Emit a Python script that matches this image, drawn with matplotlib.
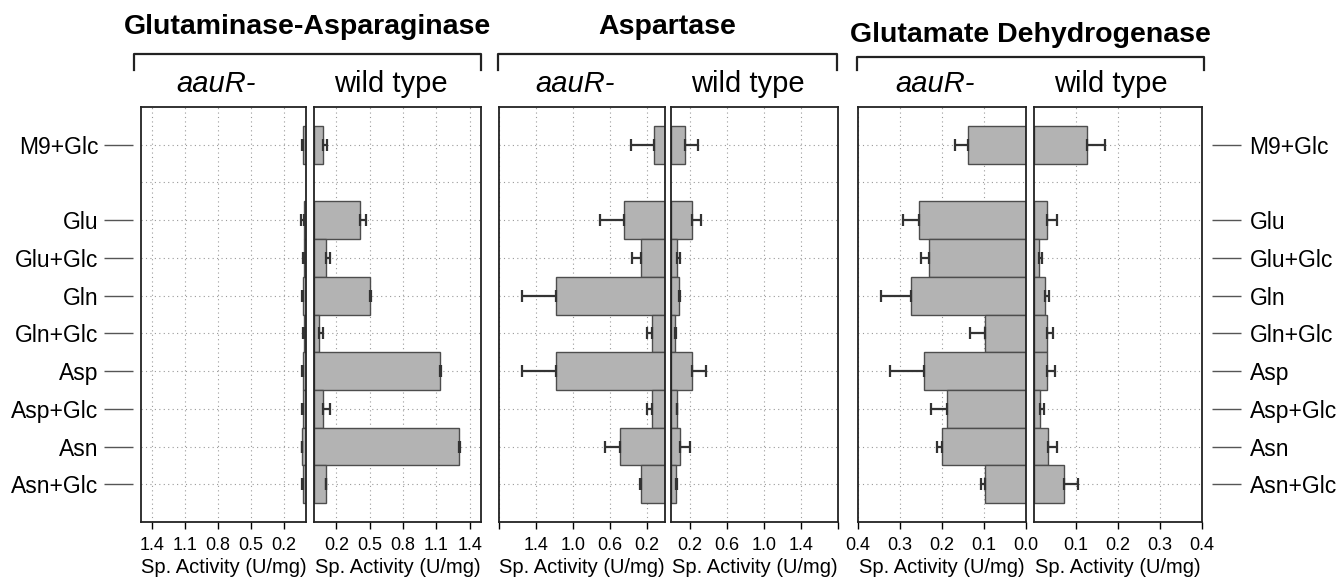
import numpy as np
import matplotlib
matplotlib.use("Agg")
import matplotlib.pyplot as plt
from matplotlib.lines import Line2D

plt.rcParams['font.family'] = ['Liberation Sans', 'DejaVu Sans']

conditions = ['M9+Glc', 'Glu', 'Glu+Glc', 'Gln', 'Gln+Glc', 'Asp', 'Asp+Glc', 'Asn', 'Asn+Glc']

# Glutaminase-Asparaginase
glut_mut = [0.025, 0.02, 0.02, 0.025, 0.02, 0.03, 0.025, 0.035, 0.025]
glut_mut_err = [0.012, 0.025, 0.01, 0.015, 0.008, 0.01, 0.008, 0.003, 0.01]
glut_wt = [0.08, 0.41, 0.105, 0.50, 0.045, 1.13, 0.08, 1.30, 0.105]
glut_wt_err = [0.036, 0.06, 0.035, 0.01, 0.04, 0.01, 0.06, 0.01, 0.005]

# Aspartase
asp_mut = [0.12, 0.44, 0.26, 1.18, 0.14, 1.18, 0.14, 0.49, 0.26]
asp_mut_err = [0.25, 0.26, 0.10, 0.37, 0.05, 0.37, 0.05, 0.16, 0.01]
asp_wt = [0.15, 0.23, 0.07, 0.09, 0.04, 0.23, 0.06, 0.10, 0.05]
asp_wt_err = [0.14, 0.09, 0.03, 0.01, 0.01, 0.15, 0.01, 0.10, 0.01]

# Glutamate Dehydrogenase
gdh_mut = [0.138, 0.255, 0.23, 0.274, 0.098, 0.243, 0.188, 0.20, 0.098]
gdh_mut_err = [0.032, 0.038, 0.02, 0.071, 0.035, 0.081, 0.038, 0.012, 0.009]
gdh_wt = [0.126, 0.031, 0.012, 0.026, 0.031, 0.031, 0.014, 0.033, 0.071]
gdh_wt_err = [0.043, 0.024, 0.008, 0.01, 0.014, 0.019, 0.01, 0.022, 0.034]

glut_ticks = [0.2, 0.5, 0.8, 1.1, 1.4]
asp_ticks = [0.2, 0.6, 1.0, 1.4, 1.8]
gdh_ticks = [0.0, 0.1, 0.2, 0.3, 0.4]

titles = ['Glutaminase-Asparaginase', 'Aspartase', 'Glutamate Dehydrogenase']
strains = ['aauR-', 'wild type']
xlabel = 'Sp. Activity (U/mg)'

W, H = 1339, 582
fig = plt.figure(figsize=(W / 100, H / 100), dpi=100)

n = len(conditions)
# one blank row after M9+Glc
ypos = np.arange(n) + (np.arange(n) > 0)
nslots = n + 1

top, bot = 107, 522
BAR = '#b3b3b3'
EDGE = '#4d4d4d'


def make_axes(x0, x1):
    return fig.add_axes([x0 / W, 1 - bot / H, (x1 - x0) / W, (bot - top) / H])


def panel(ax, vals, errs, xmax, ticks, labels, mutant):
    ax.barh(ypos, vals, height=1.0, color=BAR, edgecolor=EDGE, linewidth=1.0, zorder=2)
    ax.errorbar(vals, ypos, xerr=[np.zeros(n), errs], fmt='none', ecolor='#333333',
                elinewidth=1.6, capsize=4.5, capthick=1.6, zorder=3)
    ax.set_ylim(n + 1, -1)
    ax.set_xlim((xmax, 0) if mutant else (0, xmax))
    ax.set_yticks(np.arange(nslots))
    ax.tick_params(axis='y', left=False, right=False, labelleft=False)
    ax.set_xticks(ticks, labels)
    ax.tick_params(axis='x', direction='out', length=5, width=1, pad=6, labelsize=13)
    ax.set_axisbelow(True)
    ax.grid(True, linestyle=(0, (1, 3)), color='#9a9a9a', linewidth=0.8)
    for s in ax.spines.values():
        s.set_linewidth(1.3)
        s.set_color('#222222')
    ax.set_xlabel(xlabel, fontsize=14.5, labelpad=3)


def fmt(ticks, skip=()):
    return ['' if t in skip else '%.1f' % t for t in ticks]


groups = [
    (titles[0], (141, 306), (314, 481), glut_mut, glut_mut_err, glut_wt, glut_wt_err, 1.5,
     glut_ticks[::-1], fmt(glut_ticks[::-1]), glut_ticks, fmt(glut_ticks), (134, 481), 34),
    (titles[1], (499, 665), (671, 838), asp_mut, asp_mut_err, asp_wt, asp_wt_err, 1.8,
     asp_ticks[::-1], fmt(asp_ticks[::-1], (1.8,)), asp_ticks, fmt(asp_ticks, (1.8,)), (498, 837), 34),
    (titles[2], (858, 1026), (1034, 1202), gdh_mut, gdh_mut_err, gdh_wt, gdh_wt_err, 0.4,
     gdh_ticks[::-1], fmt(gdh_ticks[::-1]), gdh_ticks[1:], fmt(gdh_ticks[1:]), (857, 1204), 42),
]

axes_pairs = []
for (title, xm, xw, mv, me, wv, we, xmax, mt, ml, wt, wl, br, base) in groups:
    axm = make_axes(*xm)
    axw = make_axes(*xw)
    panel(axm, mv, me, xmax, mt, ml, True)
    panel(axw, wv, we, xmax, wt, wl, False)
    axes_pairs.append((axm, axw))

    # title and bracket
    fig.text((br[0] + br[1]) / 2 / W, 1 - base / H, title, ha='center', va='baseline',
             fontsize=20.5, fontweight='bold')
    by = 54 if base < 40 else 57
    fig.add_artist(Line2D([br[0] / W, br[0] / W, br[1] / W, br[1] / W],
                          [1 - 70 / H, 1 - by / H, 1 - by / H, 1 - 70 / H],
                          color='#222222', linewidth=1.6))
    for (x0, x1), lab in zip((xm, xw), strains):
        fig.text(((x0 + x1) / 2 - 7) / W, 1 - 92 / H, lab, ha='center', va='baseline',
                 fontsize=21, style='italic' if lab == 'aauR-' else 'normal')

# row labels on the far left and far right
left_ax = axes_pairs[0][0]
sec = left_ax.secondary_yaxis(-8 / 165)
sec.set_yticks(ypos, conditions)
sec.spines['left'].set_visible(False)
sec.tick_params(axis='y', length=21, width=1, color='#555555', pad=4, labelsize=16.5)

right_ax = axes_pairs[2][1]
sec2 = right_ax.secondary_yaxis(1 + 10 / 168)
sec2.set_yticks(ypos, conditions)
sec2.spines['right'].set_visible(False)
sec2.tick_params(axis='y', length=21, width=1, color='#555555', pad=6, labelsize=16.5)

fig.savefig('out.png', dpi=100)
